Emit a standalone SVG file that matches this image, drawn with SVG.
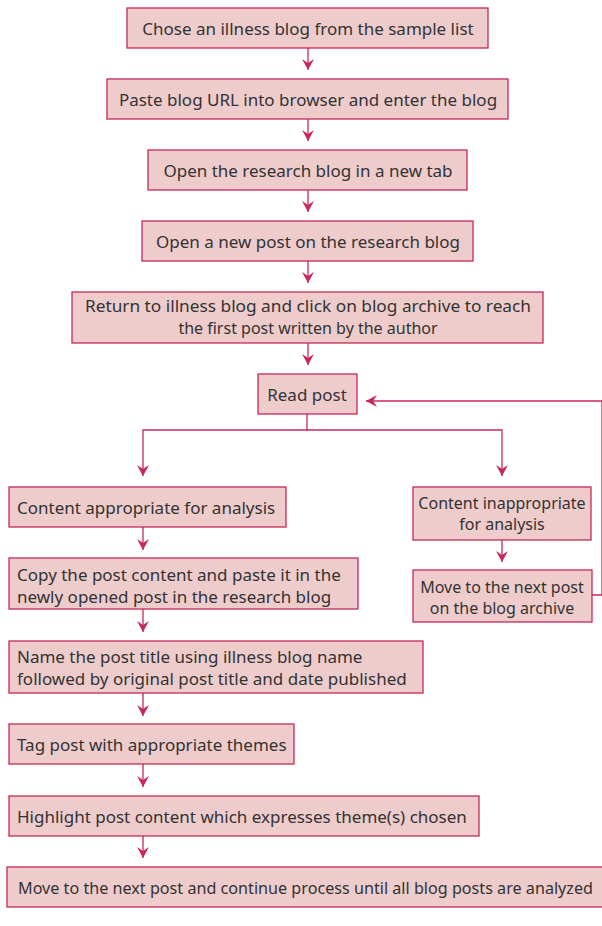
<svg xmlns="http://www.w3.org/2000/svg" width="602" height="926" viewBox="0 0 602 926">
<defs>
<style>
.box{fill:#eecccc;stroke:#c8285a;stroke-width:1.3}
.t{font-family:"Noto Sans","Liberation Sans",sans-serif;font-size:17px;fill:#333333}
.s{font-size:16px}
.c{text-anchor:middle}
.ln{fill:none;stroke:#c8285a;stroke-width:1.3}
</style>
<marker id="ah" markerWidth="14" markerHeight="14" refX="12" refY="7" orient="auto" markerUnits="userSpaceOnUse">
<path d="M12,7 L1,1 L5,7 L1,13 Z" fill="#c8285a"/>
</marker>
</defs>
<rect width="602" height="926" fill="#ffffff"/>
<g id="connectors">
<line class="ln" x1="308" y1="48" x2="308" y2="70" marker-end="url(#ah)"/>
<line class="ln" x1="308" y1="119" x2="308" y2="141" marker-end="url(#ah)"/>
<line class="ln" x1="308" y1="190" x2="308" y2="212" marker-end="url(#ah)"/>
<line class="ln" x1="308" y1="261" x2="308" y2="283" marker-end="url(#ah)"/>
<line class="ln" x1="308" y1="343" x2="308" y2="365" marker-end="url(#ah)"/>
<polyline class="ln" points="307,414 307,430 143,430 143,476" marker-end="url(#ah)"/>
<polyline class="ln" points="307,430 502,430 502,476" marker-end="url(#ah)"/>
<polyline class="ln" points="592,595 602,595 602,401 366,401" marker-end="url(#ah)"/>
<line class="ln" x1="502" y1="540" x2="502" y2="562" marker-end="url(#ah)"/>
<line class="ln" x1="143" y1="527" x2="143" y2="550" marker-end="url(#ah)"/>
<line class="ln" x1="143" y1="609" x2="143" y2="632" marker-end="url(#ah)"/>
<line class="ln" x1="143" y1="693" x2="143" y2="716" marker-end="url(#ah)"/>
<line class="ln" x1="143" y1="764" x2="143" y2="787" marker-end="url(#ah)"/>
<line class="ln" x1="143" y1="836" x2="143" y2="858" marker-end="url(#ah)"/>
</g>
<g id="n1"><rect class="box" x="127" y="8" width="361" height="40"/><text class="t c" x="308" y="35">Chose an illness blog from the sample list</text></g>
<g id="n2"><rect class="box" x="107" y="79" width="401" height="40"/><text class="t c" x="308" y="106">Paste blog URL into browser and enter the blog</text></g>
<g id="n3"><rect class="box" x="148" y="150" width="319" height="40"/><text class="t c" x="308" y="177">Open the research blog in a new tab</text></g>
<g id="n4"><rect class="box" x="142" y="221" width="331" height="40"/><text class="t c" x="308" y="248">Open a new post on the research blog</text></g>
<g id="n5"><rect class="box" x="72" y="292" width="471" height="51"/><text class="t c" x="308" y="312" textLength="446" lengthAdjust="spacingAndGlyphs" style="font-size:16px">Return to illness blog and click on blog archive to reach</text><text class="t s c" x="308" y="334">the first post written by the author</text></g>
<g id="n6"><rect class="box" x="258" y="374" width="99" height="40"/><text class="t c" x="307" y="401">Read post</text></g>
<g id="n7"><rect class="box" x="9" y="487" width="277" height="40"/><text class="t" x="17" y="514">Content appropriate for analysis</text></g>
<g id="n8"><rect class="box" x="413" y="487" width="178" height="53"/><text class="t s c" x="502" y="509">Content inappropriate</text><text class="t s c" x="502" y="530">for analysis</text></g>
<g id="n9"><rect class="box" x="413" y="570" width="179" height="52"/><text class="t s c" x="502" y="593">Move to the next post</text><text class="t s c" x="502" y="614">on the blog archive</text></g>
<g id="n10"><rect class="box" x="9" y="558" width="349" height="51"/><text class="t" x="17" y="581">Copy the post content and paste it in the</text><text class="t" x="17" y="603">newly opened post in the research blog</text></g>
<g id="n11"><rect class="box" x="9" y="641" width="414" height="52"/><text class="t" x="17" y="663">Name the post title using illness blog name</text><text class="t" x="17" y="685">followed by original post title and date published</text></g>
<g id="n12"><rect class="box" x="9" y="724" width="285" height="40"/><text class="t" x="17" y="751">Tag post with appropriate themes</text></g>
<g id="n13"><rect class="box" x="9" y="796" width="470" height="40"/><text class="t" x="17" y="823">Highlight post content which expresses theme(s) chosen</text></g>
<g id="n14"><rect class="box" x="7" y="867" width="600" height="40"/><text class="t s" x="18" y="894" textLength="575" lengthAdjust="spacingAndGlyphs">Move to the next post and continue process until all blog posts are analyzed</text></g>
</svg>
